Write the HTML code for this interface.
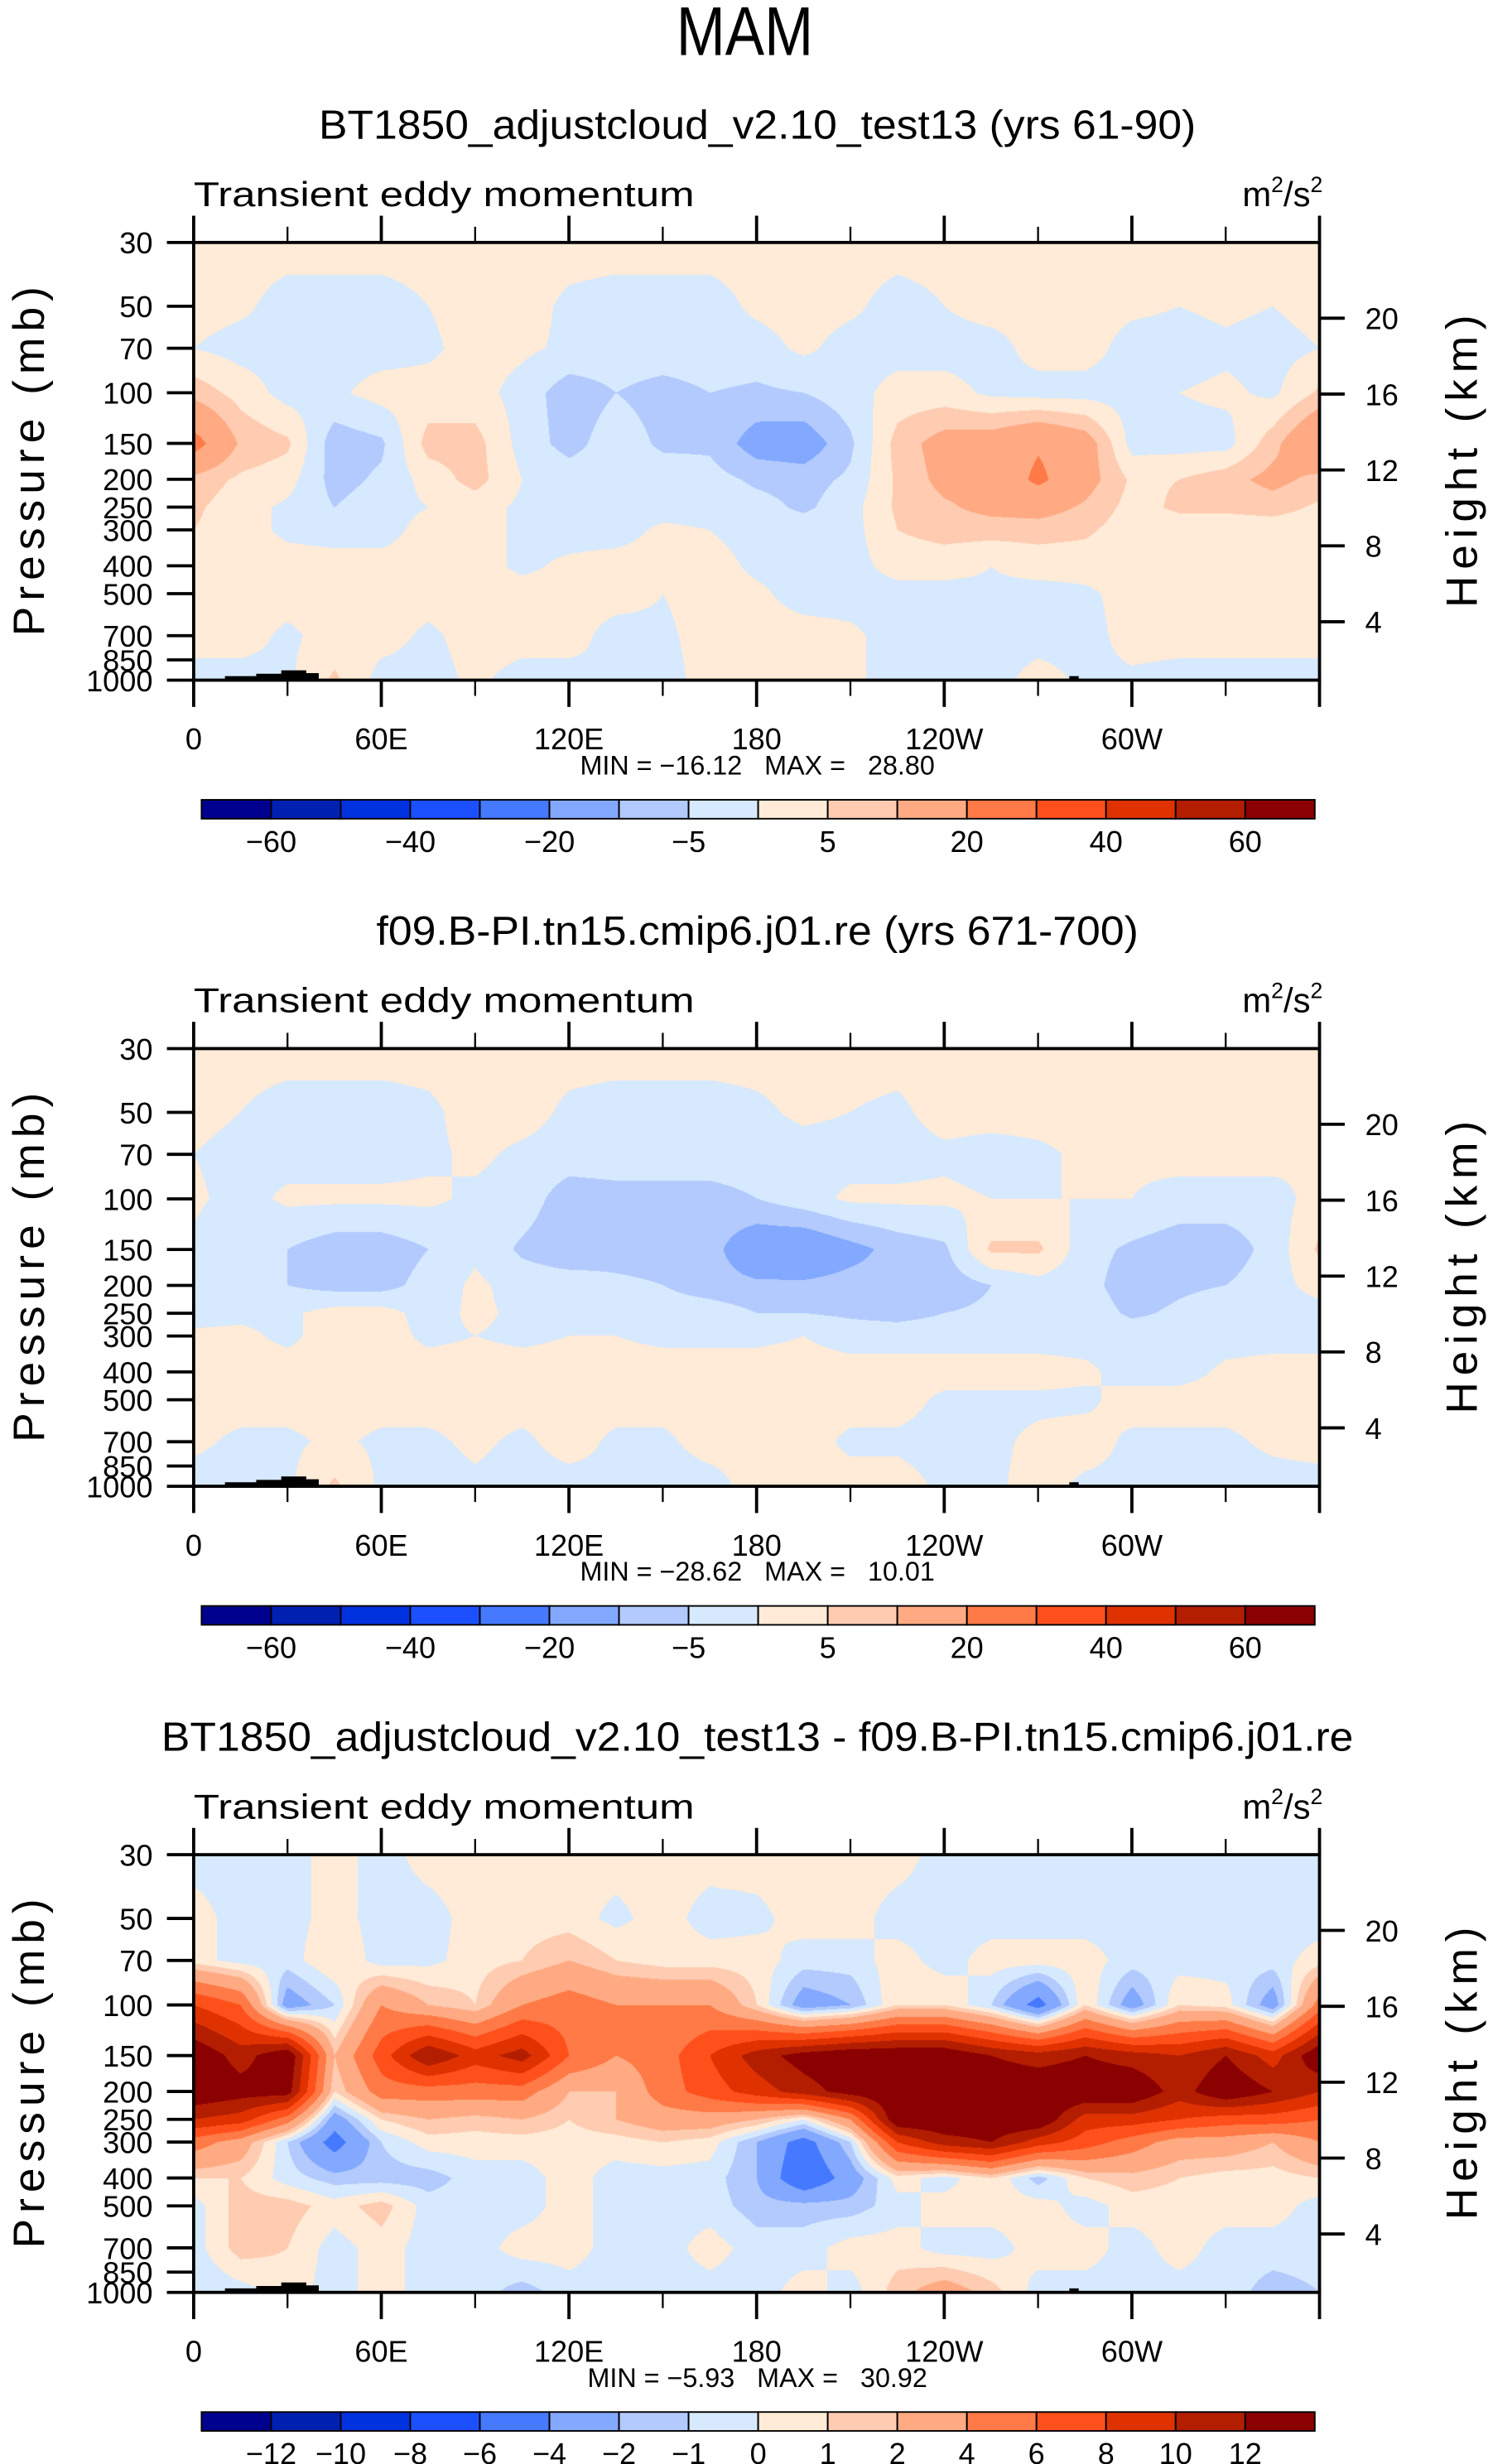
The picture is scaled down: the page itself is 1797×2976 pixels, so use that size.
<!DOCTYPE html>
<html><head><meta charset="utf-8">
<style>
html,body{margin:0;padding:0;background:#fff;}
#wrap{position:relative;width:1797px;height:2976px;overflow:hidden;}
svg{position:absolute;left:0;top:0;}
canvas{position:absolute;}
text{font-family:"Liberation Sans",sans-serif;fill:#000;}
.pre{white-space:pre;}
</style></head>
<body>
<div id="wrap">
<canvas id="c0"></canvas>
<canvas id="c1"></canvas>
<canvas id="c2"></canvas>
<svg id="svg" width="1797" height="2976" viewBox="0 0 945 1565">
<text x="473" y="35" font-size="44" text-anchor="middle" textLength="87" lengthAdjust="spacingAndGlyphs">MAM</text>
</svg>
</div>
<script>
// ---- data ----
const lons = [0,15,30,45,60,75,90,105,120,135,150,165,180,195,210,225,240,255,270,285,300,315,330,345,360];
const plevs = [30,50,70,100,150,200,250,300,400,500,700,1000];
const pTickVals = [30,50,70,100,150,200,250,300,400,500,700,850,1000];
const zTickVals = [4,8,12,16,20];
const xTickLon = [0,60,120,180,240,300];
const xTickLabels = ["0","60E","120E","180","120W","60W"];
const levelsAbs = [-60,-50,-40,-30,-20,-10,-5,0,5,10,20,30,40,50,60];
const levelsDiff = [-12,-10,-8,-6,-4,-2,-1,0,1,2,4,6,8,10,12];
const terrLon = [8,10,10,20,20,28,28,36,36,40,40,42];
const terrP = [1000,990,968,968,950,950,924,924,945,945,995,1000];
const terr2Lon = [279,280,280,283,283,296,296,297];
const terr2P = [1000,995,968,968,990,990,995,1000];

const field1 = [
[2,2,2,2,2,2,2,2,2,2,2,2,2,2,2,2,2,2,2,2,2,2,2,2,2],
[2,1,-2,-2,-2,0,2,2,-1,-2,-2,-2,1,2,1,-2,0,2,2,2,1,0,1,0,2],
[0,-2,-2,-2,-2,-1,2,1,-1,-2,-2,-2,-2,1,-2,-2,-2,-2,2,2,-2,-2,-1,-2,0],
[8,3,-2,-1,2,2,2,-2,-8,-5,-7,-5,-6,-5,-2,2,2,-1,-2,-2,-2,0,1,-1,6],
[24,9,6,-8,-6,7,7,-2,-7,-2,-6,-6,-13,-14,-6,7,13,14,19,14,-2,-2,-2,8,20],
[8,4,2,-7,-4,2,7,0,-2,-2,-2,-3,-6,-7,-4,6,12,13,22,13,4,5,8,12,8],
[6,2,-1,-5,-2,0,2,-1,-2,-2,-2,-2,-3,-6,-2,6,9,12,13,9,3,6,6,7,4],
[5,2,-1,-2,-2,2,2,-1,-2,-2,1,0,-2,-2,-2,5,7,7,7,6,2,2,2,2,2],
[2,2,2,2,2,2,2,-1,1,2,2,2,-1,-2,-2,2,2,0,2,2,2,1,2,2,2],
[2,2,2,2,2,2,2,2,2,2,0,2,1,-2,-2,-2,-2,-1,-2,-1,2,2,2,2,2],
[2,2,-1,2,2,-1,2,2,2,-2,-1,2,2,2,1,-2,-2,-2,-2,-2,2,2,2,2,2],
[-2,-2,-1,6,-2,-2,1,-2,-2,0,-2,2,2,2,1,-2,-2,-2,2,-1,-1,-2,-2,-2,-2]
];
const field2 = [
[2,2,2,2,2,2,2,2,2,2,2,2,2,2,2,2,2,2,2,2,2,2,2,2,2],
[2,0,-2,-2,-2,-1,2,2,-1,-2,-2,-2,-1,1,0,-1,2,2,2,2,2,2,2,2,2],
[0,-2,-2,-2,-2,-1,1,-1,-2,-2,-2,-2,-2,-2,-2,-2,-1,-2,-1,1,1,2,2,2,0],
[1,-2,1,1,1,1,-1,-2,-8,-7,-7,-7,-5,-2,1,1,1,0,0,0,0,-2,-2,-2,2],
[-1,-5,-5,-8,-8,-5,-1,-6,-9,-7,-7,-8,-15,-16,-12,-8,-6,6,6,-3,-6,-8,-8,-3,6],
[-2,-5,-5,-7,-7,-3,1,-2,-2,-4,-5,-8,-9,-9,-8,-8,-8,-5,-2,-3,-8,-6,-5,-2,2],
[-2,-1,-1,2,2,-2,1,-1,-2,-2,-2,-2,-5,-5,-6,-7,-5,-4,-3,-2,-6,-4,-2,-2,-2],
[1,1,-1,2,2,-1,0,-1,0,0,-1,-1,-1,0,-2,-2,-2,-2,-2,-2,-2,-2,-2,-2,-2],
[2,2,2,2,2,2,2,2,2,2,2,2,2,2,2,2,2,2,2,1,-2,-2,1,2,2],
[2,2,2,2,2,2,2,2,2,2,2,2,2,2,2,2,-1,-1,-1,-1,2,2,2,2,2],
[1,-1,-1,1,-1,-1,1,-1,2,-1,-1,2,2,2,-1,-1,-2,-1,1,2,-1,-1,-1,1,2],
[-2,-2,-1,6,-1,-2,-1,-2,-2,-1,-2,-2,2,2,2,2,-1,-1,2,-1,-1,-2,-2,-2,-2]
];
const field3 = [
[-0.5,-0.5,-0.5,0.5,-0.5,0.5,0.5,0.5,0.3,0.5,0.5,0.5,0.5,0.5,0.5,0.5,-0.5,-0.5,-0.5,-0.5,-0.5,-0.5,-0.5,-0.5,-0.5],
[0.5,-0.5,-0.5,0.5,-0.5,-0.5,0.5,0.5,0.5,-0.3,0.5,-0.5,-0.3,0.5,0.5,-0.5,-0.5,-0.5,-0.5,-0.5,-0.5,-0.5,-0.5,-0.5,-0.5],
[0.5,-0.5,-0.5,1,-0.5,-0.3,0.5,1,2,1,0.5,0.5,0.5,-0.5,-0.5,0.5,-0.5,0.5,0.5,0.5,-0.5,-0.5,-0.5,-0.5,0.5],
[8,6,-3,-1,4,2,1,4,5,4,4,4,1,-3,-2,1,1,-1,-5,1,-3,1,0.5,-3,5],
[14,11,14,2,7,12,9,11,6,4,5,8,11,13,14,14,14,12,11,12,11,10,12,9,14],
[14,13,13,1,5,5,5,5,2,2,5,7,9,11,13,14,14,14,14,14,14,11,14,12,10],
[10,9,5,-3,1,2,1.5,2,1,2,3,3,2,0,4,14,14,14,14,9,9,8,7,7,6],
[5,3,-1,-5,-1,0.5,0.5,0.5,0.5,0.5,1,0.5,-2,-5,-1,8,11,12,9,7,5,3,3,2,4],
[1,1,-0.5,-1.5,-1.5,-1.5,-0.5,-0.5,0.5,-0.5,-0.5,-0.5,-2,-6,-3,0.5,-0.5,1,-1.5,1,1.5,1,0.5,0.5,1],
[-0.5,1.5,1.5,0.5,1.5,-0.5,-0.5,-0.5,0.5,-0.5,-0.5,-0.5,-1.5,-1.5,-1.5,-0.5,0.5,0.5,0.5,-0.5,0.5,0.5,0.5,0.5,-0.5],
[-0.5,1.5,1,-0.5,0.5,-0.5,-0.5,0.5,0.5,-0.5,-0.5,0.5,-0.5,-0.5,0.5,0.5,-0.5,-0.5,0.5,0.5,-0.5,0.5,-0.5,-0.5,-0.5],
[-1,-0.5,0.5,-0.5,0.5,-0.5,-0.5,-1.5,-0.5,-0.5,-0.5,-0.5,-0.5,0.5,-0.5,1.5,3,1.5,-0.5,-0.5,-0.5,-0.5,-0.5,-1.5,-1]
];
const titles = ["BT1850_adjustcloud_v2.10_test13 (yrs 61-90)","f09.B-PI.tn15.cmip6.j01.re (yrs 671-700)","BT1850_adjustcloud_v2.10_test13 - f09.B-PI.tn15.cmip6.j01.re"];
const titleLen = [557,484,757];
const minVals = ["-16.12","-28.62","-5.93"];
const maxVals = ["28.80","10.01","30.92"];

// ---- style ----
const palette = ['#00008f','#0020b2','#0032e0','#1c50ff','#4579ff','#82a8ff','#b3caff','#d6e9fe','#ffebd7','#ffcbb1','#ffaa82','#ff7a46','#ff501c','#e03200','#b31e00','#8b0000'];
const S = 1797/945;
const X0 = 123, X1 = 838, PH = 278, TOP0 = 154, DY = 512;
const NS = 'http://www.w3.org/2000/svg';
const svg = document.getElementById('svg');

function xOf(lon){ return X0 + (lon/360)*(X1-X0); }
function fOfP(p){ return Math.log(p/30)/Math.log(1000/30); }
function yOfP(p, top){ return top + fOfP(p)*PH; }
function pOfZ(z){ return 1000*Math.exp(-(0.152*z - 0.14)); }

function mk(tag, attrs, parent){
  const el = document.createElementNS(NS, tag);
  for (const k in attrs) el.setAttribute(k, attrs[k]);
  (parent||svg).appendChild(el);
  return el;
}
function colorIdx(v, levels){ let k=0; while(k<levels.length && v>=levels[k]) k++; return k; }
function hex2rgb(h){ return [parseInt(h.slice(1,3),16),parseInt(h.slice(3,5),16),parseInt(h.slice(5,7),16)]; }
const palRGB = palette.map(hex2rgb);

function drawField(ci, grid, levels, top){
  const cv = document.getElementById('c'+ci);
  const W = Math.round((X1-X0)*S), H = Math.round(PH*S);
  cv.width = W; cv.height = H;
  cv.style.left = (X0*S)+'px'; cv.style.top = (top*S)+'px';
  cv.style.width = W+'px'; cv.style.height = H+'px';
  const ctx = cv.getContext('2d');
  const img = ctx.createImageData(W,H);
  const F = plevs.map(fOfP);
  const nl = lons.length;
  for (let py=0; py<H; py++){
    const fy = (py+0.5)/H;
    let j=0; while(j<F.length-2 && fy>F[j+1]) j++;
    const ty = Math.min(1,Math.max(0,(fy-F[j])/(F[j+1]-F[j])));
    const r0 = grid[j], r1 = grid[j+1];
    for (let px=0; px<W; px++){
      const lon = (px+0.5)/W*360;
      let i = Math.min(nl-2, Math.floor(lon/15));
      const tx = (lon - lons[i])/(lons[i+1]-lons[i]);
      const v = (r0[i]*(1-tx)+r0[i+1]*tx)*(1-ty) + (r1[i]*(1-tx)+r1[i+1]*tx)*ty;
      const c = palRGB[colorIdx(v, levels)];
      const o = (py*W+px)*4;
      img.data[o]=c[0]; img.data[o+1]=c[1]; img.data[o+2]=c[2]; img.data[o+3]=255;
    }
  }
  ctx.putImageData(img,0,0);
}

const fields = [field1, field2, field3];
for (let k=0; k<3; k++){
  const top = TOP0 + k*DY;
  const levels = k<2 ? levelsAbs : levelsDiff;
  drawField(k, fields[k], levels, top);
  const g = mk('g', {});
  
  

  const t = mk('text', {x:481, y:top-66, 'font-size':26, 'text-anchor':'middle', textLength:titleLen[k], lengthAdjust:'spacingAndGlyphs'}, g);
  
  
  t.textContent = titles[k];

  const lt = mk('text', {x:123, y:top-23, 'font-size':22, textLength:318, lengthAdjust:'spacingAndGlyphs'}, g);
  
  
  lt.textContent = 'Transient eddy momentum';

  const ut = mk('text', {x:840, y:top-23, 'font-size':22, 'text-anchor':'end'}, g);
  
  
  ut.innerHTML = 'm<tspan dy="-9" font-size="14">2</tspan><tspan dy="9">/s</tspan><tspan dy="-9" font-size="14">2</tspan>';

  const tp = [[terrLon,terrP],[terr2Lon,terr2P]];
  tp.forEach(function(a, ti){
    const pts = a[0].map(function(lo,ii){ return xOf(lo)+','+yOfP(a[1][ii],top); }).join(' ');
    const poly = mk('polygon', {points:pts, fill:'#000'}, g);
    
    
  });

  const fr = mk('rect', {x:X0, y:top, width:X1-X0, height:PH, fill:'none', stroke:'#000', 'stroke-width':2}, g);
  
  

  for (let lo=0; lo<=360; lo+=30){
    const major = lo%60===0;
    const len = major?17:10;
    const x = xOf(lo);
    const tt = mk('line', {x1:x, x2:x, y1:top, y2:top-len, stroke:'#000', 'stroke-width':major?2:1.2}, g);
    
    
    const tb = mk('line', {x1:x, x2:x, y1:top+PH, y2:top+PH+len, stroke:'#000', 'stroke-width':major?2:1.2}, g);
    
    
  }
  xTickLon.forEach(function(lo, ii){
    const xl = mk('text', {x:xOf(lo), y:top+PH+44, 'font-size':19, 'text-anchor':'middle'}, g);
    
    
    xl.textContent = xTickLabels[ii];
  });
  const mm = mk('text', {x:481, y:top+PH+60, 'font-size':17, 'text-anchor':'middle', 'class':'pre'}, g);
  
  
  const mv = minVals[k].charAt(0)==='-' ? '\u2212'+minVals[k].slice(1) : '  '+minVals[k];
  mm.textContent = 'MIN = ' + mv + '   MAX =   ' + maxVals[k];

  pTickVals.forEach(function(p){
    const y = yOfP(p, top);
    const ln = mk('line', {x1:X0-17, x2:X0, y1:y, y2:y, stroke:'#000', 'stroke-width':2}, g);
    
    
    const tl = mk('text', {x:97, y:y+7, 'font-size':19, 'text-anchor':'end'}, g);
    
    
    tl.textContent = String(p);
  });
  zTickVals.forEach(function(z){
    const y = yOfP(pOfZ(z), top);
    const ln = mk('line', {x1:X1, x2:X1+16, y1:y, y2:y, stroke:'#000', 'stroke-width':2}, g);
    
    
    const tl = mk('text', {x:867, y:y+7, 'font-size':19}, g);
    
    
    tl.textContent = String(z);
  });
  const yt = mk('text', {x:0, y:0, 'font-size':28, 'text-anchor':'middle', textLength:222, lengthAdjust:'spacing', transform:'translate(28,'+(top+139)+') rotate(-90)'}, g);
  
  
  yt.textContent = 'Pressure  (mb)';
  const ht = mk('text', {x:0, y:0, 'font-size':28, 'text-anchor':'middle', textLength:186, lengthAdjust:'spacing', transform:'translate(938,'+(top+139)+') rotate(-90)'}, g);
  
  
  ht.textContent = 'Height  (km)';

  const cbTop = top + 354, cbX0 = 128, cbX1 = 835, bw = (cbX1-cbX0)/16;
  for (let b=0; b<16; b++){
    const r = mk('rect', {x:cbX0+b*bw, y:cbTop, width:bw, height:12, fill:palette[b], stroke:'#000', 'stroke-width':1}, g);
    
    
  }
  levels.forEach(function(lv, li){
    if (k<2 && li%2===1) return;
    const lx = cbX0 + (li+1)*bw;
    const tl = mk('text', {x:lx, y:cbTop+33, 'font-size':19, 'text-anchor':'middle'}, g);
    
    
    tl.textContent = String(lv).replace('-','\u2212');
  });
}
</script>
</body></html>
